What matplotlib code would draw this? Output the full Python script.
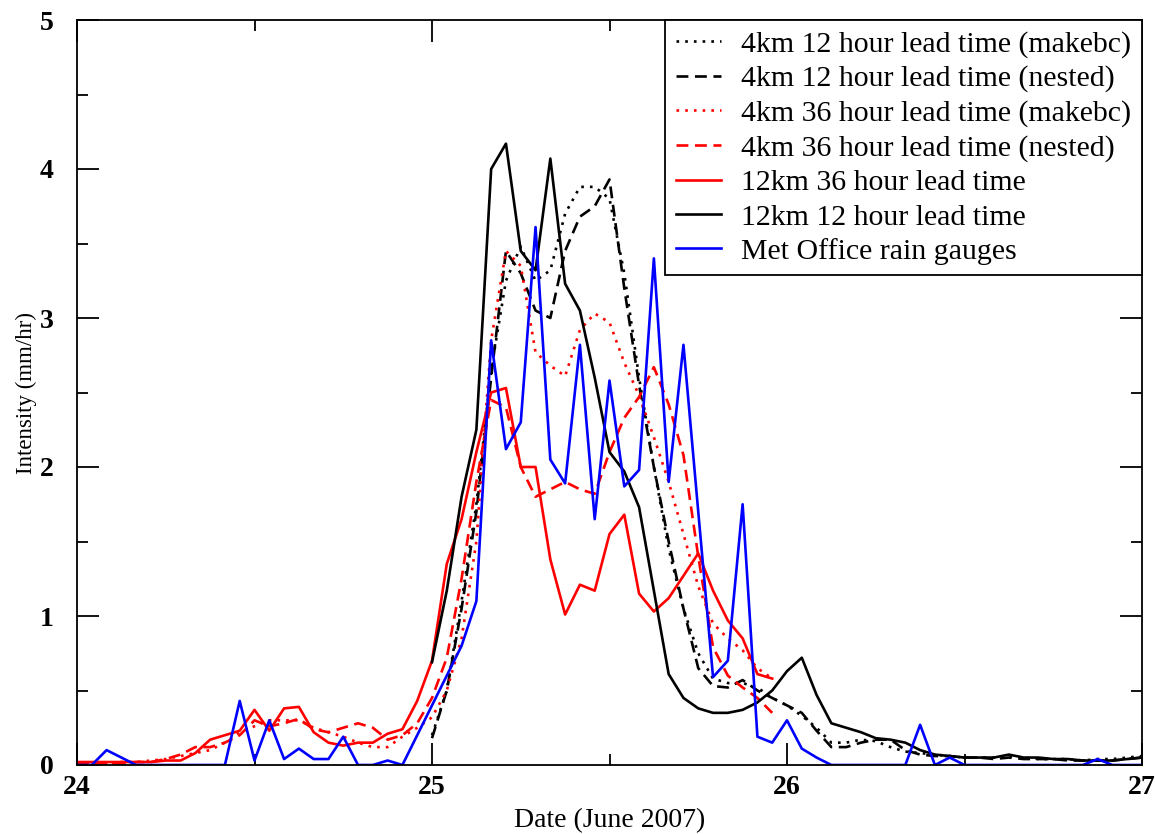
import matplotlib.pyplot as plt
import numpy as np
from matplotlib.ticker import MultipleLocator

plt.rcParams['font.family'] = ['Liberation Serif', 'DejaVu Serif']

# hours after 00Z 24 June 2007
hours_red = np.arange(0, 48)
hours_black = np.arange(24, 73)
hours_gauge = np.arange(0, 73)

km4_12h_makebc = [0.2, 0.5, 1.1, 1.75, 2.65, 3.25, 3.48, 3.25, 3.32, 3.7, 3.88, 3.88, 3.8, 3.3,
                  2.6, 2.0, 1.45, 1.05, 0.75, 0.58, 0.55, 0.55, 0.52, 0.45, 0.4, 0.33, 0.25, 0.15,
                  0.15, 0.17, 0.16, 0.12, 0.09, 0.08, 0.07, 0.06, 0.05, 0.05, 0.05, 0.06, 0.05,
                  0.04, 0.04, 0.04, 0.03, 0.04, 0.04, 0.05, 0.06]
km4_12h_nested = [0.18, 0.5, 1.05, 1.7, 2.6, 3.45, 3.3, 3.05, 3.0, 3.45, 3.68, 3.75, 3.93, 3.2,
                  2.55, 2.0, 1.5, 1.05, 0.65, 0.53, 0.52, 0.57, 0.5, 0.45, 0.4, 0.35, 0.23, 0.12,
                  0.12, 0.15, 0.17, 0.17, 0.1, 0.07, 0.06, 0.06, 0.05, 0.05, 0.04, 0.05, 0.04,
                  0.04, 0.04, 0.03, 0.03, 0.03, 0.03, 0.04, 0.05]
km4_36h_makebc = [0.01, 0.01, 0.01, 0.02, 0.02, 0.03, 0.04, 0.06, 0.08, 0.1, 0.15, 0.22, 0.26,
                  0.3, 0.3, 0.3, 0.25, 0.22, 0.19, 0.15, 0.12, 0.12, 0.19, 0.25, 0.32, 0.5, 0.85,
                  1.5, 2.85, 3.45, 3.35, 2.77, 2.68, 2.61, 2.92, 3.03, 2.97, 2.7, 2.48, 2.2, 1.9,
                  1.55, 1.2, 0.95, 0.85, 0.77, 0.65, 0.58]
km4_36h_nested = [0.01, 0.01, 0.01, 0.01, 0.02, 0.02, 0.04, 0.07, 0.12, 0.12, 0.15, 0.2, 0.3,
                  0.26, 0.28, 0.31, 0.24, 0.22, 0.25, 0.28, 0.25, 0.17, 0.2, 0.28, 0.45, 0.72,
                  1.25, 1.9, 2.45, 2.4, 2.0, 1.8, 1.85, 1.9, 1.85, 1.82, 2.1, 2.33, 2.47, 2.67,
                  2.42, 2.08, 1.4, 0.79, 0.6, 0.52, 0.45, 0.35]
km12_36h = [0.02, 0.02, 0.02, 0.02, 0.02, 0.02, 0.03, 0.03, 0.08, 0.17, 0.2, 0.23, 0.37, 0.23,
            0.38, 0.39, 0.22, 0.15, 0.13, 0.15, 0.15, 0.21, 0.24, 0.43, 0.7, 1.35, 1.65, 2.1,
            2.5, 2.53, 2.0, 2.0, 1.38, 1.01, 1.21, 1.17, 1.55, 1.68, 1.15, 1.03, 1.12, 1.27,
            1.42, 1.17, 0.97, 0.85, 0.61, 0.58]
km12_12h = [0.69, 1.17, 1.8, 2.25, 4.0, 4.17, 3.45, 3.32, 4.07, 3.23, 3.05, 2.6, 2.1, 1.97,
            1.73, 1.17, 0.61, 0.45, 0.38, 0.35, 0.35, 0.37, 0.42, 0.5, 0.63, 0.72, 0.47, 0.28,
            0.25, 0.22, 0.18, 0.17, 0.15, 0.1, 0.07, 0.06, 0.05, 0.05, 0.05, 0.07, 0.05, 0.05,
            0.04, 0.04, 0.03, 0.03, 0.03, 0.04, 0.05]
gauges = [0, 0, 0.1, 0.05, 0, 0, 0, 0, 0, 0, 0, 0.43, 0.03, 0.3, 0.04, 0.11, 0.04, 0.04, 0.19,
          0, 0, 0.03, 0, 0.2, 0.4, 0.6, 0.8, 1.1, 2.85, 2.12, 2.3, 3.61, 2.05, 1.89, 2.82, 1.65,
          2.58, 1.87, 1.98, 3.4, 1.9, 2.82, 1.7, 0.59, 0.7, 1.75, 0.19, 0.15, 0.3, 0.11, 0.05,
          0, 0, 0, 0, 0, 0, 0.27, 0, 0.05, 0, 0, 0, 0, 0, 0, 0, 0, 0, 0.04, 0, 0, 0]

fig = plt.figure(figsize=(11.55, 8.34), dpi=100)
ax = fig.add_axes([77/1155, 1-765/834, (1142-77)/1155, (765-20)/834])

lw = 1.9
dot = (0, (1, 2.3))
dash = (0, (4.5, 2.5))
ax.plot(24 + hours_black/24, km4_12h_makebc, color='black', ls=dot, lw=lw, label='4km 12 hour lead time (makebc)')
ax.plot(24 + hours_black/24, km4_12h_nested, color='black', ls=dash, lw=lw, label='4km 12 hour lead time (nested)')
ax.plot(24 + hours_red/24, km4_36h_makebc, color='red', ls=dot, lw=lw, label='4km 36 hour lead time (makebc)')
ax.plot(24 + hours_red/24, km4_36h_nested, color='red', ls=dash, lw=lw, label='4km 36 hour lead time (nested)')
ax.plot(24 + hours_red/24, km12_36h, color='red', lw=lw, label='12km 36 hour lead time')
ax.plot(24 + hours_black/24, km12_12h, color='black', lw=lw, label='12km 12 hour lead time')
ax.plot(24 + hours_gauge/24, gauges, color='blue', lw=lw, label='Met Office rain gauges')

ax.set_xlim(24, 27)
ax.set_ylim(0, 5)
ax.xaxis.set_major_locator(MultipleLocator(1))
ax.xaxis.set_minor_locator(MultipleLocator(0.5))
ax.yaxis.set_major_locator(MultipleLocator(1))
ax.yaxis.set_minor_locator(MultipleLocator(0.5))
ax.tick_params(which='both', direction='in', top=True, right=True, width=1.3)
ax.tick_params(which='major', length=16, labelsize=20)
ax.tick_params(which='minor', length=8)
ax.tick_params(axis='x', which='major', pad=7)
ax.tick_params(axis='y', which='major', pad=17)
for lab in ax.get_xticklabels() + ax.get_yticklabels():
    lab.set_fontweight('bold')
for sp in ax.spines.values():
    sp.set_linewidth(1.3)

ax.set_xlabel('Date (June 2007)', fontsize=20, labelpad=6)
ax.set_ylabel('Intensity (mm/hr)', fontsize=16.5, labelpad=2)

leg = ax.legend(loc='upper right', borderaxespad=0, fontsize=21.5, fancybox=False,
                edgecolor='black', framealpha=1, handlelength=1.5, labelspacing=0.25,
                handletextpad=0.7, borderpad=0.35)
leg.get_frame().set_linewidth(1.3)

fig.savefig('out.png', dpi=100)
